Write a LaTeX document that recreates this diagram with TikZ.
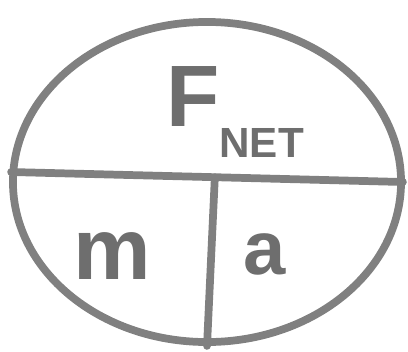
\documentclass[tikz,border=0pt]{standalone}
\usepackage{fontspec}
\setmainfont{Liberation Sans}
\usepackage{tikz}
\usetikzlibrary{shapes.geometric,calc,positioning}
\definecolor{markergray}{HTML}{808080}
\definecolor{inkgray}{HTML}{6E6E6E}

\begin{document}
\begin{tikzpicture}[
    x=0.025cm, y=-0.025cm,
    stroke/.style={draw=markergray, line width=5.5pt, line cap=round},
    letter/.style={text=inkgray, font=\bfseries\fontsize{#1}{#1}\selectfont, inner sep=0pt}
]
    \useasboundingbox (0,0) rectangle (408,351);

    % Outer ring
    \node[stroke, ellipse, minimum width=9.7cm, minimum height=8.0cm, inner sep=0pt] (disc) at (207,182) {};

    % Dividers
    \coordinate (lend) at ($(disc.west)+(2,-10)$);
    \coordinate (rend) at ($(disc.east)+(-2,0)$);
    \coordinate (split) at ($(lend)!0.52!(rend)$);
    \draw[stroke] (lend) -- (rend);
    \draw[stroke] (split) -- (disc.south);

    % Labels
    \node[letter=62] (fnet) at (235,112) {F\raisebox{-0.35em}{\fontsize{30}{30}\selectfont NET}};
    \node[letter=62] (mass) at (112,256) {m};
    \node[letter=54] (accel) at (265,254) {a};
\end{tikzpicture}
\end{document}
